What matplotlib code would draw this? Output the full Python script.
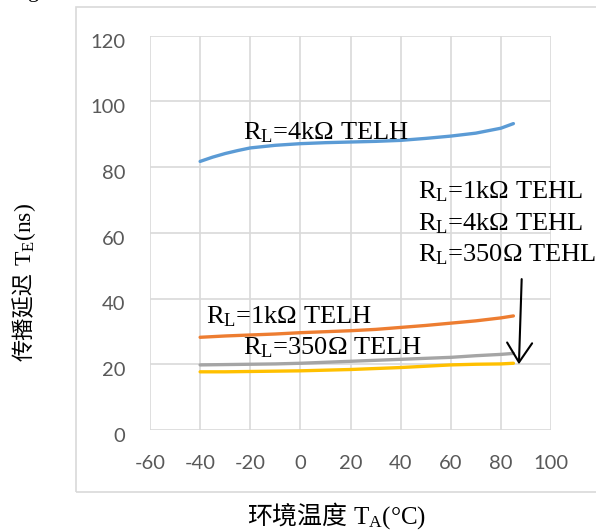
import numpy as np
import matplotlib
matplotlib.use("Agg")
import matplotlib.pyplot as plt
from matplotlib.patches import Rectangle
from matplotlib.transforms import ScaledTranslation

plt.rcParams['mathtext.fontset'] = 'custom'
plt.rcParams['mathtext.rm'] = 'Liberation Serif'
plt.rcParams['mathtext.it'] = 'Liberation Serif:italic'
plt.rcParams['axes.unicode_minus'] = False

# temperatures (°C) and propagation delays (ns)
temp_4k = [-40, -35, -30, -25, -20, -10, 0, 10, 20, 30, 40, 50, 60, 70, 80, 85]
telh_4k = [81.7, 83.0, 84.1, 85.0, 85.8, 86.6, 87.1, 87.4, 87.6, 87.8, 88.1,
           88.7, 89.4, 90.3, 91.8, 93.2]
temp = [-40, -30, -20, -10, 0, 10, 20, 30, 40, 50, 60, 70, 80, 85]
telh_1k = [28.2, 28.6, 28.9, 29.2, 29.6, 29.9, 30.2, 30.6, 31.2, 31.8, 32.5,
           33.2, 34.1, 34.7]
telh_350 = [19.8, 19.9, 20.0, 20.1, 20.3, 20.6, 20.9, 21.2, 21.5, 21.8, 22.1,
            22.6, 23.0, 23.3]
tehl = [17.7, 17.7, 17.8, 17.9, 18.0, 18.2, 18.4, 18.7, 19.0, 19.4, 19.8,
        20.0, 20.1, 20.3]

xticks = [-60, -40, -20, 0, 20, 40, 60, 80, 100]
yticks = [0, 20, 40, 60, 80, 100, 120]

W, H = 596, 532
fig = plt.figure(figsize=(W / 100, H / 100), dpi=100)
ax = fig.add_axes([150 / W, 1 - 430 / H, 401 / W, 394.5 / H])

def px(x, y):
    return x / W, 1 - y / H

# chart area border
fig.patches.append(Rectangle(px(76, 492), 1.0, (492 - 7) / H,
                             transform=fig.transFigure, fill=False,
                             edgecolor='#d9d9d9', linewidth=1.2))

ax.plot(temp_4k, telh_4k, color='#5B9BD5', lw=2.4, solid_capstyle='round')
ax.plot(temp, telh_1k, color='#ED7D31', lw=2.4, solid_capstyle='round')
ax.plot(temp, telh_350, color='#A5A5A5', lw=2.4, solid_capstyle='round')
ax.plot(temp, tehl, color='#FFC000', lw=2.4, solid_capstyle='round')

ax.set_xlim(-60, 100)
ax.set_ylim(0, 120)
ax.set_xticks(xticks)
ax.set_yticks(yticks)
ax.grid(True, color='#d9d9d9', lw=1.2)
ax.set_axisbelow(True)
for s in ax.spines.values():
    s.set_visible(False)
ax.tick_params(length=0, labelsize=14.5, labelcolor='#595959')
ax.tick_params(axis='x', pad=18)
ax.tick_params(axis='y', pad=18)
for lab in ax.get_xticklabels() + ax.get_yticklabels():
    lab.set_fontfamily('Lato')
off = ScaledTranslation(0, -5 / 100, fig.dpi_scale_trans)
for lab in ax.get_yticklabels():
    lab.set_transform(lab.get_transform() + off)

serif = ['Liberation Serif', 'Noto Sans CJK SC']
fs = 19
ax.text(-23, 88.3, r'$\mathrm{R_L}$=4kΩ TELH', fontsize=fs, family=serif)
ax.text(-37.5, 32.5, r'$\mathrm{R_L}$=1kΩ TELH', fontsize=fs, family=serif)
ax.text(-23, 23, r'$\mathrm{R_L}$=350Ω TELH', fontsize=fs, family=serif)
ax.text(47, 70.3, r'$\mathrm{R_L}$=1kΩ TEHL', fontsize=fs, family=serif)
ax.text(47, 60.6, r'$\mathrm{R_L}$=4kΩ TEHL', fontsize=fs, family=serif)
ax.text(47, 51.4, r'$\mathrm{R_L}$=350Ω TEHL', fontsize=fs, family=serif)
ax.annotate('', xy=(87.2, 20.0), xytext=(88.3, 45.9),
            arrowprops=dict(arrowstyle='->,head_length=1.4,head_width=0.9',
                            color='black', lw=1.5, shrinkA=0, shrinkB=0))

# x axis title
fig.text(*px(347, 524), '环境温度', fontsize=18, family='Noto Sans CJK SC',
         ha='right', va='baseline')
fig.text(*px(353, 524), r'T$\mathrm{_A}$(°C)', fontsize=18, family=serif,
         ha='left', va='baseline')
# y axis title
fig.text(*px(31, 272), '传播延迟', fontsize=16, family='Noto Sans CJK SC',
         ha='right', va='baseline', rotation=90, rotation_mode='anchor')
fig.text(*px(31, 266), r'T$\mathrm{_E}$(ns)', fontsize=17, family=serif,
         ha='left', va='baseline', rotation=90, rotation_mode='anchor')

# title cut off at the top of the picture
fig.text(28 / W, 1.0 + 3 / H, 'g      传播延迟与环境温度的关系曲线', fontsize=16,
         family=serif, va='baseline', color='black')

fig.savefig('out.png', dpi=100)
